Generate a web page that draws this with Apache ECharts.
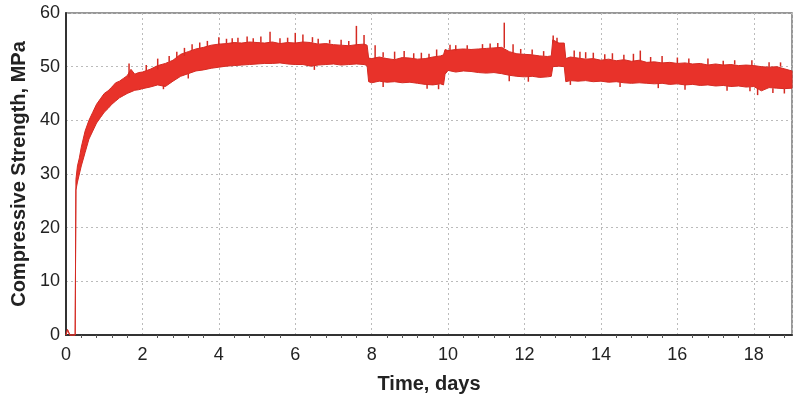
<!DOCTYPE html>
<html>
<head>
<meta charset="utf-8">
<script src="https://cdn.jsdelivr.net/npm/echarts@6/dist/echarts.min.js"></script>
<style>
  html, body { margin: 0; padding: 0; background: #fff; }
  #chart { width: 800px; height: 398px; }
</style>
</head>
<body>
<div id="chart"></div>
<script>
// time (days) and lower / upper edge of the noisy strength band (MPa)
var times = [0, 0.04, 0.1, 0.24, 0.26, 0.3, 0.35, 0.4, 0.5, 0.6, 0.7, 0.8, 0.9, 1.0, 1.1, 1.2, 1.3, 1.4, 1.5, 1.6, 1.7, 1.8, 1.9,
  2.0, 2.2, 2.4, 2.6, 2.8, 3.0, 3.2, 3.4, 3.6, 3.8, 4.0, 4.2, 4.4, 4.6, 4.8, 5.0, 5.2, 5.4, 5.6, 5.8, 6.0, 6.2, 6.4, 6.6, 6.8,
  7.0, 7.2, 7.4, 7.6, 7.8, 7.88, 7.92, 8.0, 8.2, 8.4, 8.6, 8.8, 9.0, 9.2, 9.4, 9.6, 9.8, 9.88, 9.92, 10.0, 10.2, 10.4, 10.6,
  10.8, 11.0, 11.2, 11.4, 11.6, 11.8, 12.0, 12.2, 12.4, 12.6, 12.7, 12.74, 12.9, 13.04, 13.08, 13.2, 13.4, 13.6, 13.8, 14.0,
  14.2, 14.4, 14.6, 14.8, 15.0, 15.2, 15.4, 15.6, 15.8, 16.0, 16.2, 16.4, 16.6, 16.8, 17.0, 17.2, 17.4, 17.6, 17.8, 18.0,
  18.2, 18.4, 18.6, 18.8, 19.0];
var lows = [0, 1, 0, 0, 27, 28.5, 30, 31.5, 34, 36.5, 38, 39.5, 40.5, 41.5, 42.2, 43, 43.6, 44.2, 44.6, 45, 45.3, 45.6, 45.7,
  45.9, 46.2, 46.6, 46.3, 47.3, 48.2, 48.7, 49.2, 49.4, 49.7, 49.9, 50.1, 50.2, 50.3, 50.4, 50.5, 50.6, 50.6, 50.7, 50.5, 50.4,
  50.4, 50.1, 50.3, 50.4, 50.5, 50.3, 50.4, 50.5, 50.4, 50.2, 47.2, 47, 47.3, 47.1, 47.2, 47, 47.1, 46.9, 46.7, 46.6, 46.8,
  46.6, 48.6, 49.3, 49, 49.2, 49.1, 48.9, 48.8, 48.9, 48.7, 48.4, 48.2, 48.1, 48.2, 48, 48.1, 48.2, 50, 50.1, 50, 47.2, 47.4,
  47.3, 47.4, 47.2, 47.3, 47.1, 47.2, 47, 46.9, 47, 46.9, 46.8, 46.9, 46.7, 46.8, 46.6, 46.7, 46.5, 46.6, 46.4, 46.5, 46.3,
  46.4, 46.2, 46.3, 45.5, 46.1, 46, 45.9, 46];
var highs = [0, 1, 0, 0, 29, 31.5, 33, 35, 38, 40, 41.5, 43, 44, 45, 45.5, 46.2, 47, 47.3, 47.8, 48.3, 49.5, 48.6, 48.9,
  49, 49.5, 50.2, 50.6, 51.2, 52.3, 52.8, 53.3, 53.6, 54, 54.2, 54.3, 54.5, 54.4, 54.6, 54.5, 54.4, 54.6, 54.3, 54.5, 54.4,
  54.6, 54.5, 54.2, 54.3, 54.1, 54, 53.9, 54.1, 54.2, 54, 51.6, 51.5, 51.8, 51.5, 51.3, 51.7, 51.6, 51.4, 51.5, 51.8, 52,
  52.2, 53.2, 53, 53.2, 53.3, 53.2, 53.3, 53.4, 53.5, 53.6, 52.8, 52.4, 52.3, 52.2, 52, 51.9, 52, 55, 54.4, 54.4, 51.5, 51.8,
  51.6, 51.4, 51.5, 51.2, 51.4, 51.1, 51.3, 51, 51.2, 50.8, 50.9, 50.7, 50.8, 50.6, 50.7, 50.5, 50.6, 50.3, 50.5, 50.3, 50.4,
  50.2, 50.3, 50.2, 50, 49.9, 50, 49.6, 49.2];
// narrow spikes above and dips below the band: [time, from, to]
var spikes = [[1.65, 48, 50.6], [2.1, 49.2, 50.3], [2.4, 49.5, 51.5], [2.7, 50.9, 52], [2.9, 51.7, 52.8], [3.1, 52, 53.5],
  [3.3, 53, 54.2], [3.5, 53.4, 54.5], [3.7, 53.8, 54.8], [4.0, 54, 55.5], [4.2, 54.3, 55.2], [4.35, 54.3, 55.3],
  [4.5, 54.5, 55.4], [4.74, 54.5, 55.6], [4.9, 54.5, 55.3], [5.1, 54.5, 55.6], [5.34, 54.5, 56.5], [5.6, 54.3, 55.3],
  [5.8, 54.5, 55.4], [6.0, 54.4, 56.3], [6.2, 54.5, 56], [6.45, 54.5, 55.5], [6.6, 54.2, 55.2], [6.9, 54.3, 55],
  [7.2, 54, 55], [7.4, 53.9, 54.8], [7.6, 54, 57.6], [7.8, 54, 55.9], [8.09, 51.5, 54], [8.3, 51.8, 52.7], [8.6, 51.3, 52.8],
  [8.85, 51.7, 52.9], [9.1, 51.5, 52.5], [9.3, 51.4, 52.6], [9.5, 51.5, 52.4], [9.7, 51.8, 53.2], [10.05, 53, 54.1],
  [10.2, 53, 54], [10.5, 53.3, 54], [10.9, 53.3, 54.2], [11.1, 53.4, 54.3], [11.3, 53.5, 54.4], [11.47, 53.5, 58.2],
  [11.7, 52.6, 54.2], [11.9, 52.4, 53.3], [12.2, 52.2, 53.2], [12.5, 52, 52.9], [12.75, 54.5, 55.8], [12.85, 54.4, 55.4],
  [13.3, 51.8, 53], [13.45, 51.6, 52.8], [13.6, 51.5, 52.7], [13.8, 51.5, 52.6], [14.1, 51.3, 52.3], [14.3, 51.3, 52.5],
  [14.6, 51.3, 52.2], [14.85, 51, 52.4], [15.03, 51, 53], [15.3, 50.8, 51.8], [15.6, 50.7, 52], [16.0, 50.6, 51.7],
  [16.3, 50.7, 51.5], [16.8, 50.3, 51.5], [17.2, 50.3, 51.1], [17.5, 50.4, 51.2], [17.95, 50.2, 51.2], [18.4, 49.9, 50.8],
  [18.7, 50, 50.8],
  [2.55, 46.5, 45.8], [3.2, 48.7, 47.8], [6.5, 50.2, 49.4], [8.3, 47.2, 46.2], [9.45, 46.7, 45.9], [9.75, 46.7, 45.8],
  [11.6, 48.4, 47.3], [12.1, 48.1, 47.2], [13.2, 47.4, 46.6], [14.5, 47.1, 46.2], [15.5, 46.8, 46], [16.2, 46.6, 45.7],
  [17.3, 46.4, 45.5], [17.9, 46.2, 45.4], [18.1, 46, 44.7], [18.5, 46, 45.1], [18.8, 45.9, 45]];

var red = '#e8322a'
var edge = '#d42a22'
var chart = echarts.init(document.getElementById('chart'))
var option = {
    animation: false,
    grid: {
        left: 66,
        right: 8,
        top: 13,
        bottom: 63,
        outerBoundsMode: 'none',
        show: true,
        borderColor: '#777',
        borderWidth: 1.5
    },
    xAxis: {
        type: 'value',
        min: 0,
        max: 19,
        interval: 2,
        name: 'Time, days',
        nameLocation: 'middle',
        nameGap: 39,
        nameTextStyle: { fontFamily: 'Liberation Sans', fontWeight: 'bold', fontSize: 20, color: '#222' },
        axisLine: { lineStyle: { color: '#333', width: 2 } },
        axisTick: { show: false },
        minorTick: { show: true, splitNumber: 5, length: 3, lineStyle: { color: '#555' } },
        axisLabel: {
            color: '#222', fontFamily: 'Liberation Sans', fontSize: 18, margin: 11, showMaxLabel: false,
            formatter: function (v) { return v > 18 ? '' : v }
        },
        splitLine: { show: true, lineStyle: { color: '#bbb', type: [2, 3], width: 1 } }
    },
    yAxis: {
        type: 'value',
        min: 0,
        max: 60,
        interval: 10,
        name: 'Compressive Strength, MPa',
        nameLocation: 'middle',
        nameGap: 36,
        nameTextStyle: { fontFamily: 'Liberation Sans', fontWeight: 'bold', fontSize: 20, color: '#222' },
        axisLine: { show: true, lineStyle: { color: '#333', width: 2 } },
        axisTick: { show: false },
        axisLabel: { color: '#222', fontFamily: 'Liberation Sans', fontSize: 18, margin: 6 },
        splitLine: { show: true, lineStyle: { color: '#bbb', type: [2, 3], width: 1 } }
    },
    series: [
        {
            // band: upper edge forward, lower edge back
            type: 'custom',
            data: [[0, 0]],
            renderItem: function (params, api) {
                var pts = []
                for (var i = 0; i < times.length; i++) pts.push(api.coord([times[i], highs[i]]))
                for (var j = times.length - 1; j >= 0; j--) pts.push(api.coord([times[j], lows[j]]))
                return {
                    type: 'polygon',
                    shape: { points: pts },
                    style: { fill: red, stroke: edge, lineWidth: 1 }
                }
            }
        },
        {
            type: 'custom',
            data: spikes,
            renderItem: function (params, api) {
                var a = api.coord([api.value(0), api.value(1)])
                var b = api.coord([api.value(0), api.value(2)])
                return {
                    type: 'line',
                    shape: { x1: a[0], y1: a[1], x2: b[0], y2: b[1] },
                    style: { stroke: edge, lineWidth: 1.5 }
                }
            },
            encode: { x: 0, y: [1, 2] }
        }
    ]
};
chart.setOption(option)
</script>
</body>
</html>
